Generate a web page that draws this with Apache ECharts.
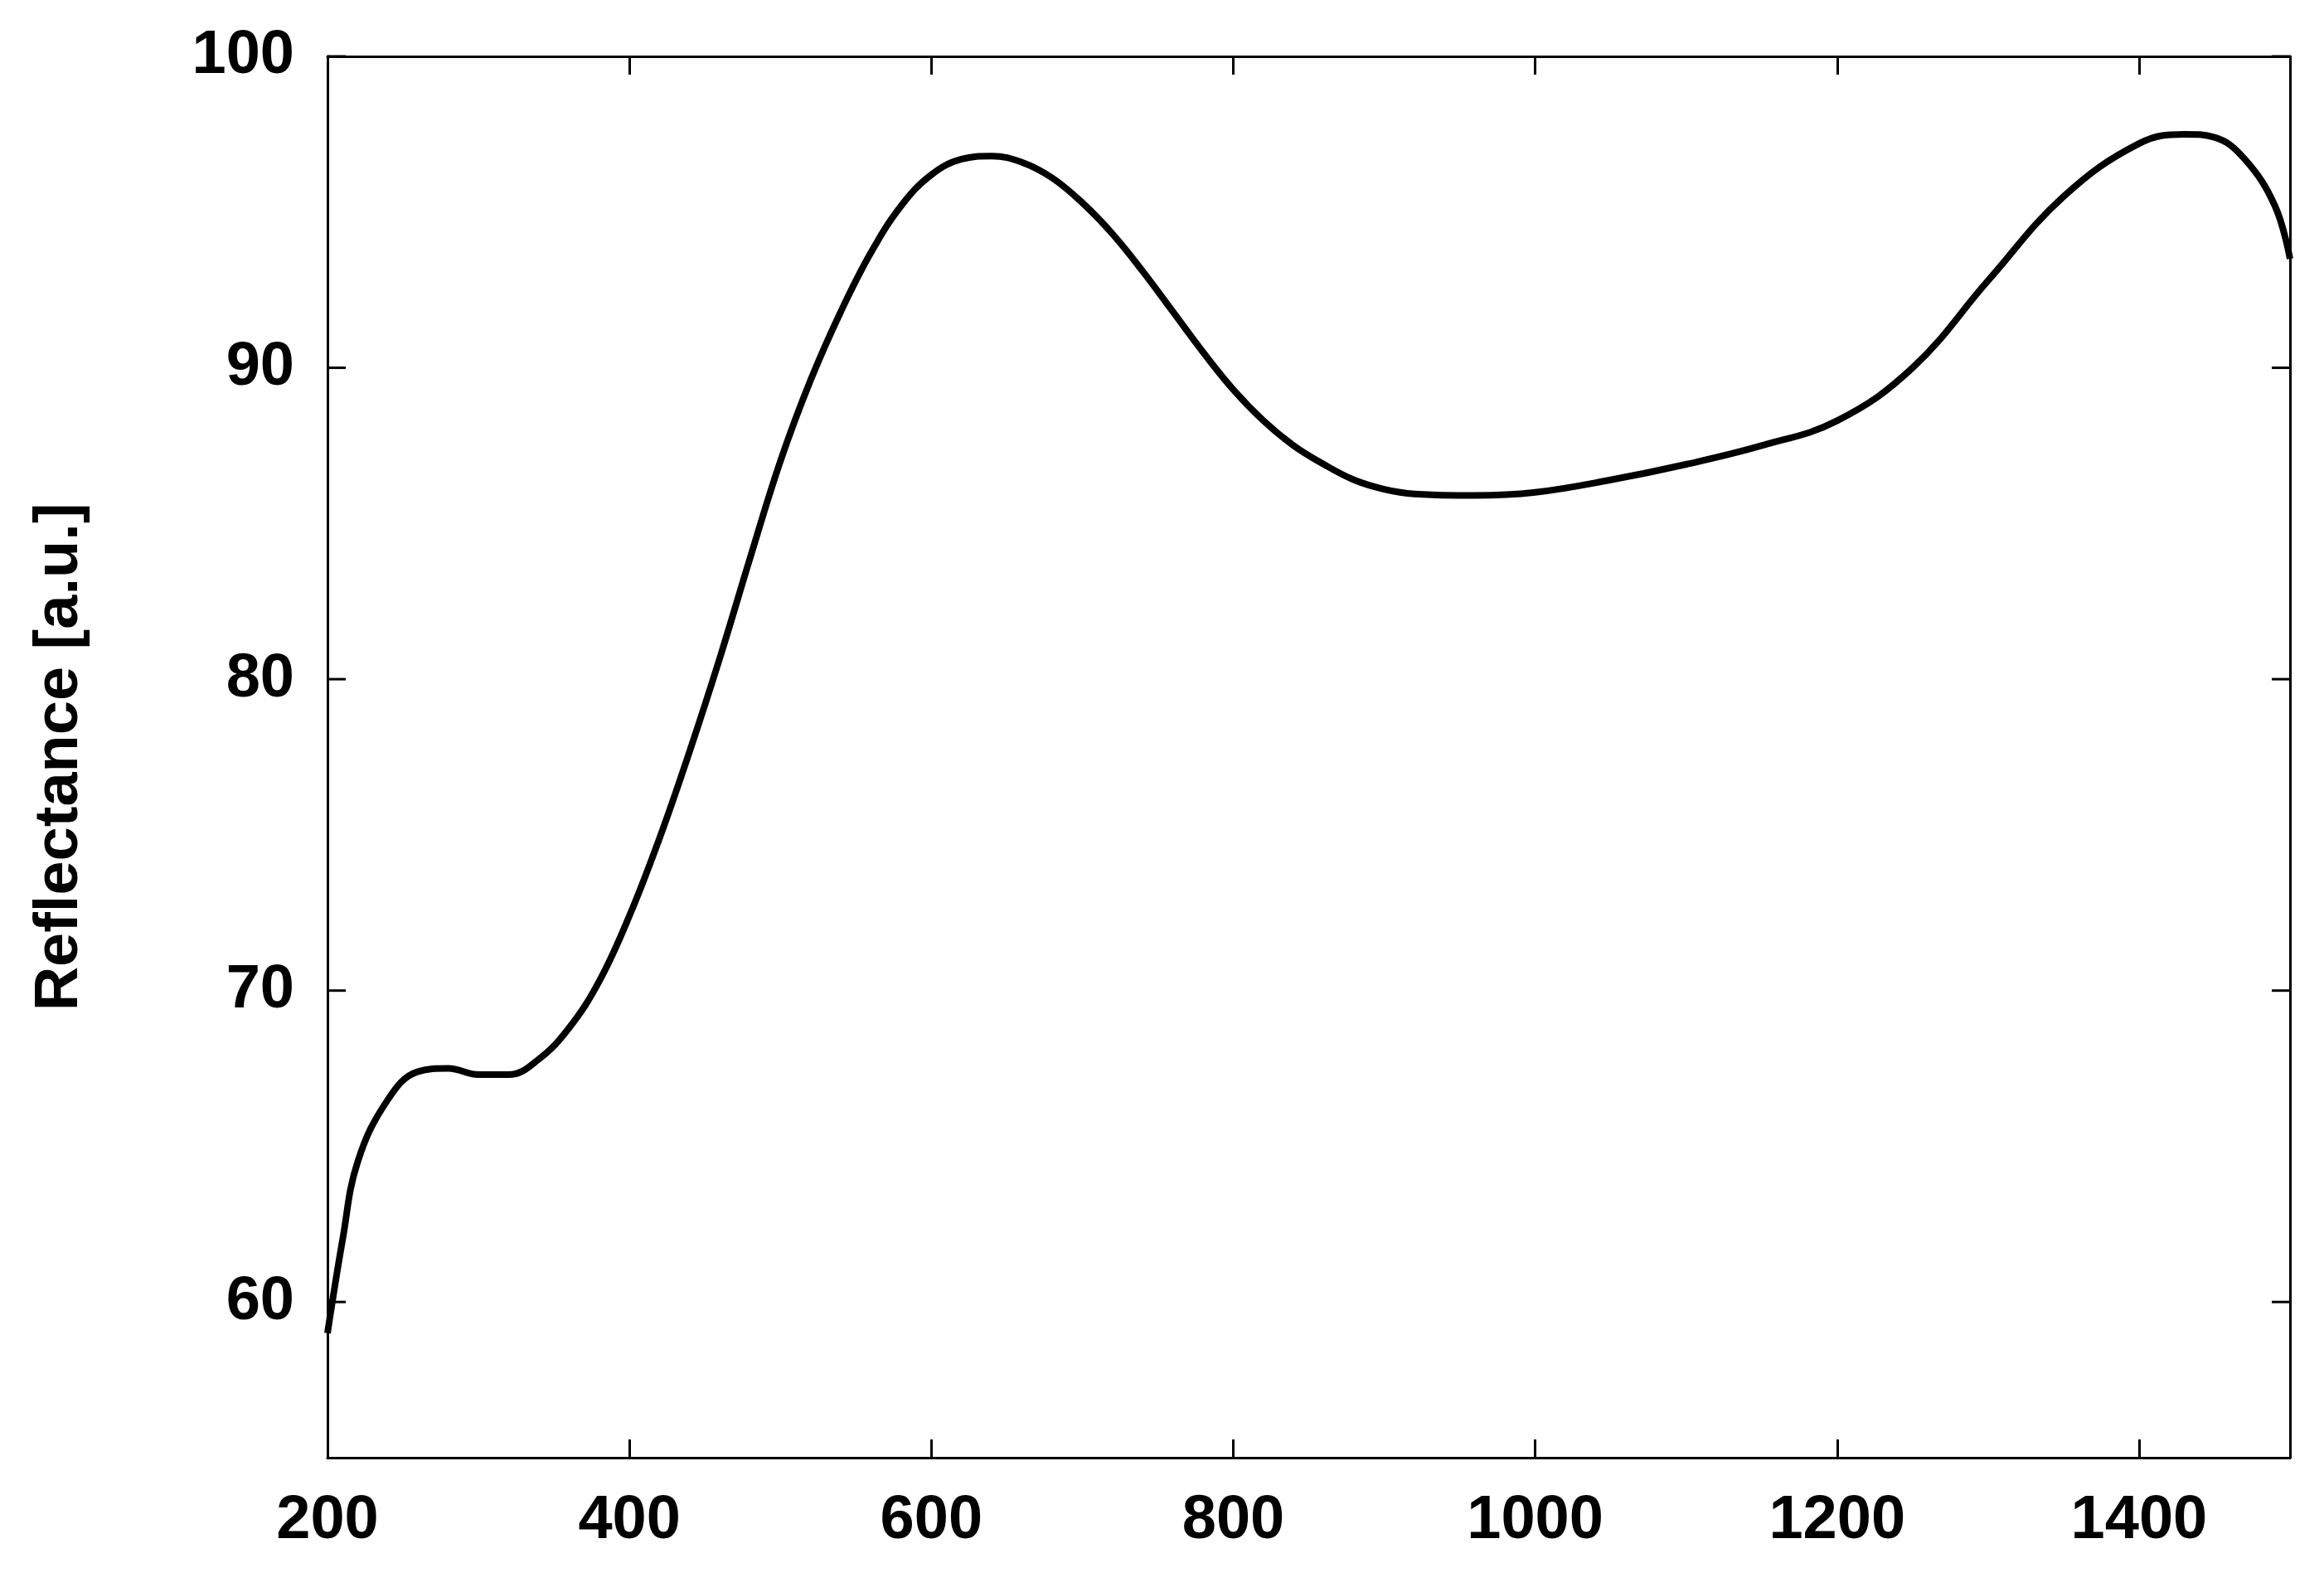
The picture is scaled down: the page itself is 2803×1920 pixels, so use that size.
<!DOCTYPE html>
<html>
<head>
<meta charset="utf-8">
<script src="https://cdn.jsdelivr.net/npm/echarts@6/dist/echarts.min.js"></script>
<style>html,body{margin:0;padding:0;background:#fff}#main{width:2803px;height:1920px}</style>
</head>
<body>
<div id="main"></div>
<script>
// wavelength and reflectance
var wavelength = [200,210,220,240,260,280,300,320,340,360,380,400,420,440,460,480,500,520,540,560,580,600,620,640,660,680,700,720,740,760,780,800,820,840,860,880,900,920,960,1000,1050,1100,1150,1200,1250,1300,1350,1400,1430,1450,1470,1490,1500];
var reflectance = [59,62,64.5,66.5,67.4,67.5,67.3,67.3,67.8,68.8,70.3,72.4,74.9,77.7,80.7,83.9,87.0,89.6,91.8,93.7,95.2,96.2,96.7,96.8,96.6,96.1,95.3,94.3,93.1,91.8,90.5,89.3,88.3,87.5,86.9,86.4,86.1,85.95,85.9,86.0,86.4,86.9,87.5,88.3,90.0,92.8,95.5,97.2,97.5,97.4,96.7,95.2,93.5];
var xTicks = [200,400,600,800,1000,1200,1400];
var yTicks = [60,70,80,90,100];

var pts = wavelength.map(function(x,i){return [x,reflectance[i]];});
var font = {fontFamily:'Liberation Sans',fontWeight:'bold',fontSize:74,color:'#000'};
var line = {show:true,lineStyle:{color:'#000',width:3}};
var tick = {show:true,inside:true,length:22,lineStyle:{color:'#000',width:3}};
var myChart = echarts.init(document.getElementById('main'));
var option = {
    animation:false,
    grid:{left:395,right:41,top:68,bottom:162},
    xAxis:[
        {type:'value',min:200,max:1500,interval:200,axisLine:line,axisTick:tick,splitLine:{show:false},
         axisLabel:Object.assign({margin:40,formatter:function(v){return xTicks.indexOf(v)>=0?v:'';}},font)},
        {type:'value',position:'top',min:200,max:1500,interval:200,axisLine:line,axisTick:tick,splitLine:{show:false},axisLabel:{show:false}}
    ],
    yAxis:[
        {type:'value',min:55,max:100,interval:5,axisLine:line,axisTick:{show:false},splitLine:{show:false},
         name:'Reflectance [a.u.]',nameLocation:'middle',nameGap:285,nameTextStyle:font,
         axisLabel:Object.assign({margin:40,formatter:function(v){return yTicks.indexOf(v)>=0?v:'';}},font)},
        {type:'value',min:55,max:100,interval:5,position:'right',axisLine:line,axisTick:{show:false},splitLine:{show:false},axisLabel:{show:false}}
    ],
    series:[
        {type:'line',data:pts,smooth:0.4,showSymbol:false,lineStyle:{color:'#000',width:8}}
    ]
};
myChart.setOption(option);
// inside ticks at labelled values on both sides
var g = [];
yTicks.forEach(function(v){
    var p = myChart.convertToPixel({xAxisIndex:0,yAxisIndex:0},[200,v]);
    var q = myChart.convertToPixel({xAxisIndex:0,yAxisIndex:0},[1500,v]);
    g.push({type:'line',shape:{x1:p[0],y1:p[1],x2:p[0]+22,y2:p[1]},style:{stroke:'#000',lineWidth:3}});
    g.push({type:'line',shape:{x1:q[0],y1:q[1],x2:q[0]-22,y2:q[1]},style:{stroke:'#000',lineWidth:3}});
});
myChart.setOption({graphic:g});
</script>
</body>
</html>
